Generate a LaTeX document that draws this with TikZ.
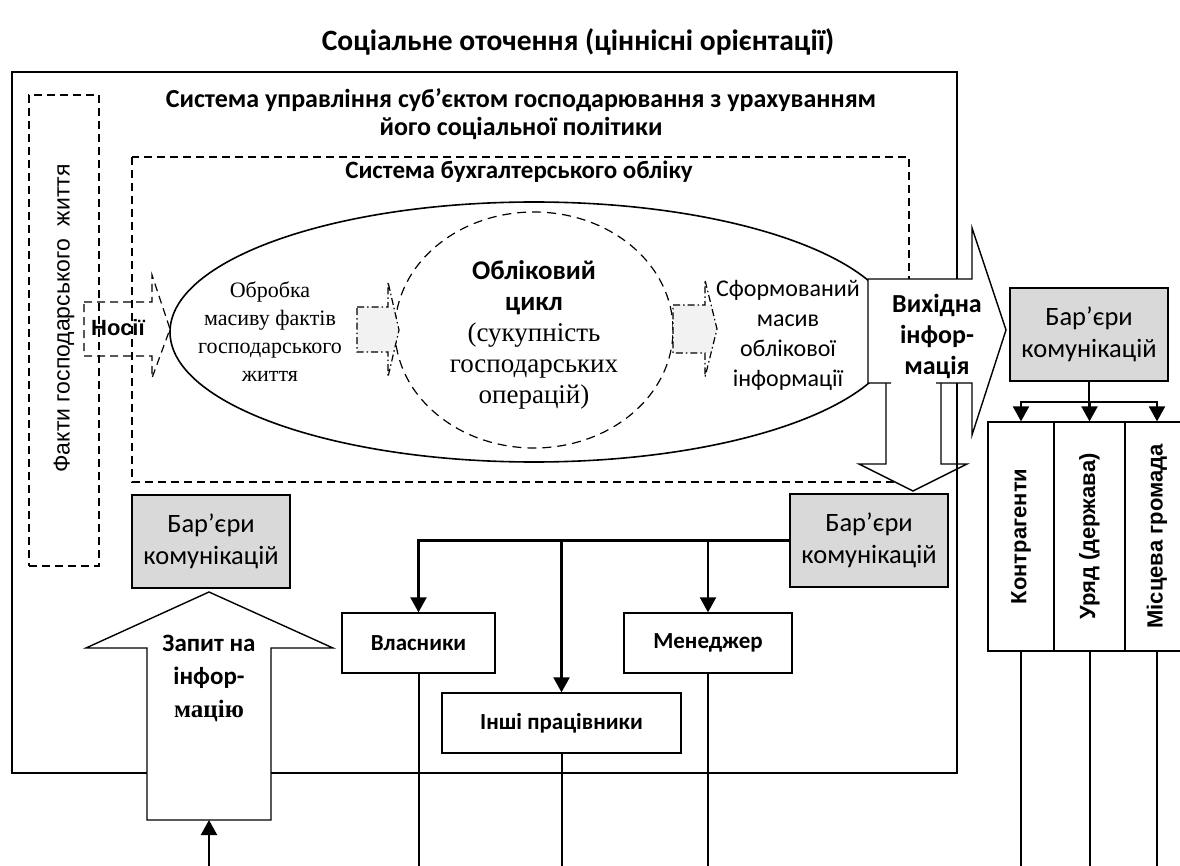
\documentclass[tikz,border=0pt]{standalone}
\usepackage{fontspec}
\setmainfont{Carlito}
\newfontfamily\timesf{Liberation Serif}
\newfontfamily\arialf{Liberation Sans}
\usetikzlibrary{arrows.meta}

\begin{document}
\begin{tikzpicture}[x=1pt, y=-1pt,
  box/.style={draw, line width=1.3pt, inner sep=0pt, align=center},
  barbox/.style={box, fill=barGray, minimum width=158pt, minimum height=93pt,
    font=\fontsize{26.5}{32}\selectfont},
  rolebox/.style={box, fill=white, minimum height=60pt,
    font=\fontsize{23}{26}\selectfont\bfseries},
  colbox/.style={box, minimum height=229pt,
    font=\arialf\fontsize{22}{24}\selectfont\bfseries},
  headtext/.style={align=center, font=\fontsize{26}{28}\selectfont\bfseries},
  conn/.style={line width=2.2pt, -{Triangle[width=16pt,length=15pt]}},
  tail/.style={line width=2pt},
  dsh/.style={line width=1.2pt, dash pattern=on 8pt off 5pt},
  ddot/.style={line width=1.2pt, dash pattern=on 7pt off 3pt on 1.5pt off 3pt},
]

% Кольори
\definecolor{barGray}{HTML}{D9D9D9}
\definecolor{arrGray}{HTML}{F2F2F2}

\useasboundingbox (0,0) rectangle (1180,866);

% Заголовок
\node[headtext, font=\fontsize{29.5}{32}\selectfont\bfseries] (tytul) at (578,42)
  {Соціальне оточення (ціннісні орієнтації)};

% Пунктирні рамки
\node[box, dsh, minimum width=70pt, minimum height=471pt,
  font=\arialf\fontsize{23}{26}\selectfont] (fakty) at (64,330.5)
  {\rotatebox{90}{\hspace*{24pt}Факти господарського\ \ життя}};
\draw[dsh] (132,157) rectangle (909,482);

% Еліпс і обліковий цикл
\draw[line width=1.6pt] (534,332) ellipse [x radius=364pt, y radius=130pt];
\draw[line width=1.2pt, dash pattern=on 9pt off 6pt] (534,330) ellipse [x radius=139pt, y radius=118pt];

% Малі стрілки
\fill[arrGray] (357,307) -- (394,307) -- (399,330) -- (394,352) -- (357,352) -- cycle;
\draw[ddot] (357,307) -- (388,307) -- (388,282) -- (399,330) -- (388,377) -- (388,352) -- (357,352) -- cycle;
\fill[arrGray] (673,305) -- (711,305) -- (717,329) -- (711,353) -- (673,353) -- cycle;
\draw[ddot] (673,305) -- (705,305) -- (705,280) -- (717,329) -- (705,377) -- (705,353) -- (673,353) -- cycle;

% Носії
\draw[dsh] (84,302) -- (152,302) -- (152,275) -- (170,329) -- (152,378) -- (152,356) -- (84,356) -- cycle;
\node[font=\arialf\fontsize{22}{24}\selectfont\bfseries] (nosii) at (118,328) {Носії};

% Стрілка вниз
\fill[white] (886,383) -- (886,464) -- (859,464) -- (913,491) -- (967,464) -- (941,464) -- (941,383) -- cycle;
\draw[line width=1.4pt] (886,383) -- (886,464) -- (859,464) -- (913,491) -- (967,464) -- (941,464) -- (941,383);

% Система управління
\draw[line width=1.4pt] (12,72) rectangle (957,773);
\node[headtext] (upr) at (521,114) {Система управління суб’єктом господарювання з урахуванням\\його соціальної політики};
\node[headtext, font=\fontsize{25}{28}\selectfont\bfseries] (buh) at (519,172) {Система бухгалтерського обліку};

% Вихідна інформація
\fill[white] (868,279) -- (972,279) -- (972,228) -- (1006,330) -- (972,435) -- (972,383) -- (868,383) -- cycle;
\draw[line width=1.4pt] (891,383) -- (868,383) -- (868,279) -- (972,279) -- (972,228) -- (1006,330) -- (972,435) -- (972,383) -- (936,383);
\node[align=center, font=\fontsize{26}{31}\selectfont\bfseries] (vyhid) at (937,336) {Вихідна\\інфор-\\мація};

% Тексти в еліпсі
\node[align=center, font=\timesf\fontsize{22}{28}\selectfont] (obrobka) at (270,332)
  {Обробка\\масиву фактів\\господарського\\життя};
\node[align=center, font=\fontsize{27}{31}\selectfont] (cykl) at (534,335)
  {\textbf{Обліковий}\\\textbf{цикл}\\{\timesf (сукупність}\\{\timesf господарських}\\{\timesf операцій)}};
\node[align=center, font=\fontsize{24}{30}\selectfont] (sform) at (788,335)
  {Сформований\\масив\\облікової\\інформації};

% Запит на інформацію
\node[barbox] (bar1) at (211,541.5) {Бар’єри\\комунікацій};
\draw[line width=1.4pt, fill=white] (147,820) -- (147,648) -- (86,648) -- (209,592) -- (333,648) -- (271,648) -- (271,820) -- cycle;
\node[align=center, font=\fontsize{25}{33}\selectfont\bfseries] (zapyt) at (209,678)
  {Запит на\\інфор-\\{\timesf мацію}};
\coordinate (zapytniz) at (209,820);
\coordinate (dzherelo) at (209,866);
\draw[conn] (dzherelo) -- (zapytniz);

% Внутрішні користувачі
\node[barbox] (bar2) at (869,540.5) {Бар’єри\\комунікацій};
\node[rolebox, minimum width=153pt] (vlasnyky) at (418.5,643) {Власники};
\node[rolebox, minimum width=168pt] (menedzher) at (708,643) {Менеджер};
\node[rolebox, minimum width=239pt] (inshi) at (561.5,723) {Інші працівники};
\foreach \r in {vlasnyky,inshi,menedzher}
  \draw[conn] (bar2.west) -| (\r.north);
\coordinate (niz) at (0,866);
\foreach \r in {vlasnyky,inshi,menedzher}
  \draw[tail] (\r.south) -- (\r.south |- niz);

% Зовнішні користувачі
\node[barbox] (bar3) at (1089,334.5) {Бар’єри\\комунікацій};
\node[colbox, minimum width=66pt] (kontr) at (1021,536.5) {\rotatebox{90}{Контрагенти}};
\node[colbox, minimum width=71pt] (uryad) at (1089.5,536.5) {\rotatebox{90}{Уряд (держава)}};
\node[colbox, minimum width=64pt] (hromada) at (1157,536.5) {\rotatebox{90}{Місцева громада}};
\foreach \r in {kontr,uryad,hromada}
  \draw[conn] (bar3.south) -- ++(0,20) -| (\r.north);
\foreach \r in {kontr,uryad,hromada}
  \draw[tail] (\r.south) -- (\r.south |- niz);

\end{tikzpicture}
\end{document}
